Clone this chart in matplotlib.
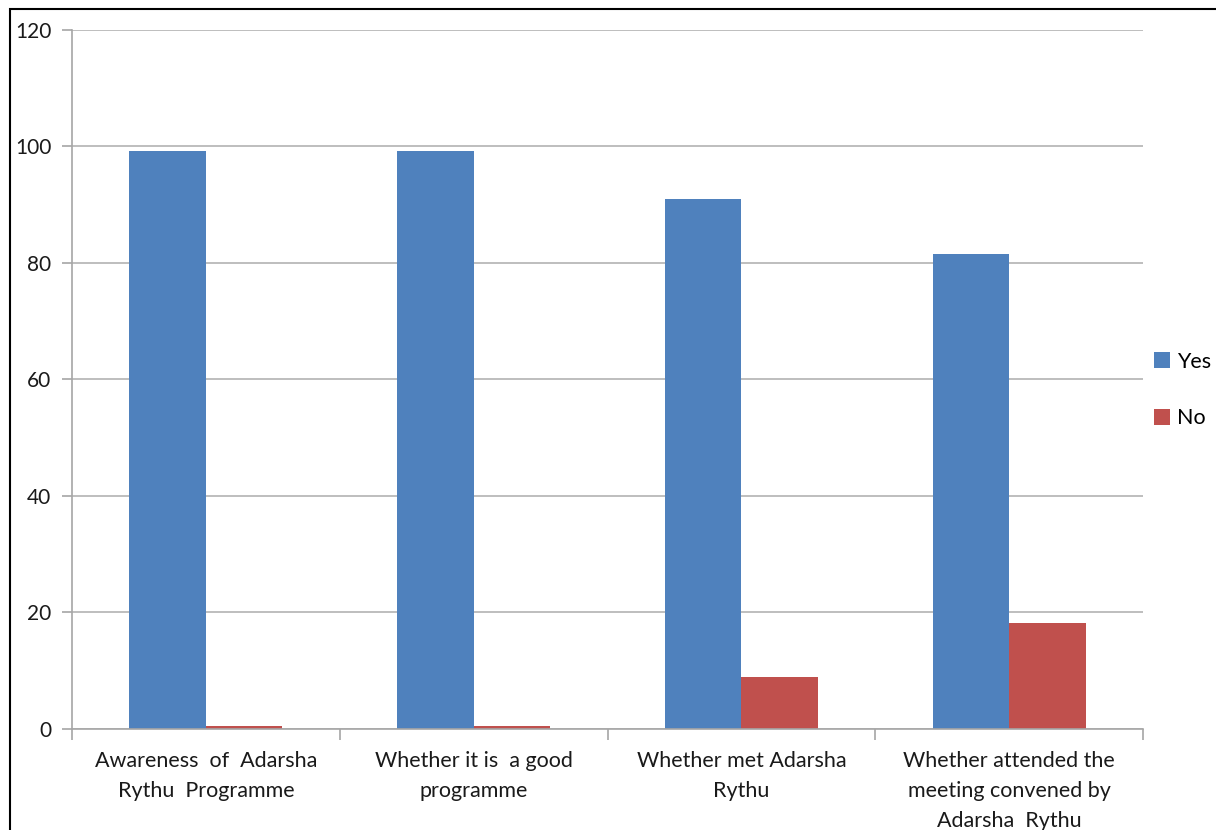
import numpy as np
import matplotlib.pyplot as plt
from matplotlib.patches import Rectangle

# survey responses (%)
categories = ["Awareness  of  Adarsha\nRythu  Programme",
              "Whether it is  a good\nprogramme",
              "Whether met Adarsha\nRythu",
              "Whether attended the\nmeeting convened by\nAdarsha  Rythu"]
yes = [99.3, 99.3, 91.0, 81.6]
no = [0.5, 0.5, 8.9, 18.2]
yticks = [0, 20, 40, 60, 80, 100, 120]

plt.rcParams['font.family'] = ['Lato', 'DejaVu Sans']

fig = plt.figure(figsize=(12.16, 8.30), dpi=100)
ax = fig.add_axes([0.0592, 0.1217, 0.8808, 0.8422])

x = np.arange(len(categories))
w = 1 / 3.5
ax.bar(x - w / 2, yes, w, color="#4F81BD", label="Yes")
ax.bar(x + w / 2, no, w, color="#C0504D", label="No")

ax.set_xlim(-0.5, len(categories) - 0.5)
ax.set_ylim(0, 120)
ax.set_yticks(yticks)
ax.yaxis.grid(True, color="#b3b3b3", linewidth=1.2)
ax.set_axisbelow(True)

ax.set_xticks(x)
ax.set_xticklabels(categories, fontsize=15.5, color="#1a1a1a", linespacing=1.62, va="top")
ax.set_xticks(np.arange(len(categories) + 1) - 0.5, minor=True)
ax.tick_params(axis="x", which="major", length=0, pad=16)
ax.tick_params(axis="x", which="minor", length=8, color="#a6a6a6", width=1.2)
ax.tick_params(axis="y", length=7, color="#a6a6a6", width=1.2, labelsize=15,
               labelcolor="#1a1a1a", pad=8)

for s in ["top", "right"]:
    ax.spines[s].set_visible(False)
for s in ["left", "bottom"]:
    ax.spines[s].set_color("#a6a6a6")
    ax.spines[s].set_linewidth(1.2)

ax.legend(loc="center left", bbox_to_anchor=(1.0, 0.485), frameon=False,
          fontsize=15.5, handlelength=0.75, handleheight=0.75, handletextpad=0.35,
          labelspacing=1.7, borderaxespad=0.3, borderpad=0.2)

# outer chart border (cropped at right and bottom)
fig.patches.append(Rectangle((10 / 1216, -0.1), 1.2, 1 - 9 / 830 + 0.1,
                             transform=fig.transFigure, fill=False,
                             edgecolor="black", linewidth=1.5))

fig.savefig("out.png", dpi=100)
